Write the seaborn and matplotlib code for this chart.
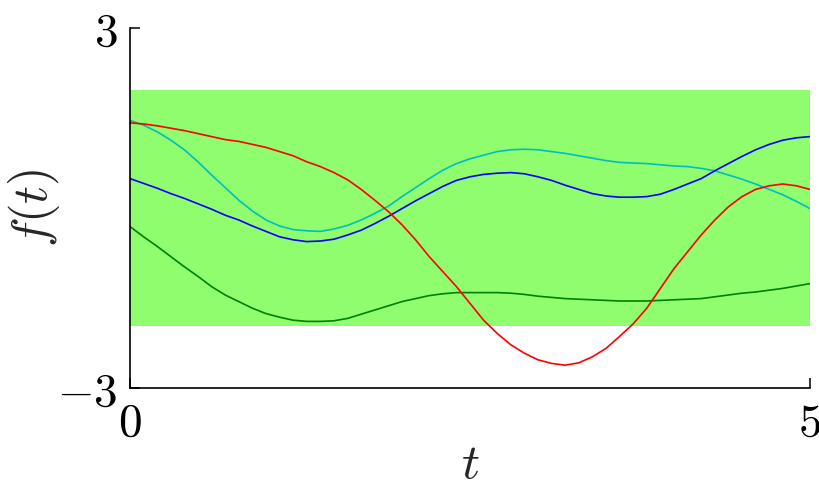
import numpy as np
import pandas as pd
import matplotlib
matplotlib.use("Agg")
import matplotlib.pyplot as plt
import seaborn as sns

# Sample paths f(t) on a grid of t
t = [0.0, 0.1, 0.2, 0.3, 0.4, 0.5, 0.6, 0.7, 0.8, 0.9,
     1.0, 1.1, 1.2, 1.3, 1.4, 1.5, 1.6, 1.7, 1.8, 1.9,
     2.0, 2.1, 2.2, 2.3, 2.4, 2.5, 2.6, 2.7, 2.8, 2.9,
     3.0, 3.1, 3.2, 3.3, 3.4, 3.5, 3.6, 3.7, 3.8, 3.9,
     4.0, 4.1, 4.2, 4.3, 4.4, 4.5, 4.6, 4.7, 4.8, 4.9, 5.0]

f_green = [-0.31, -0.48, -0.64, -0.81, -0.98, -1.14, -1.31, -1.45, -1.56, -1.67,
           -1.76, -1.82, -1.87, -1.89, -1.89, -1.88, -1.84, -1.77, -1.70, -1.63,
           -1.56, -1.51, -1.46, -1.43, -1.41, -1.41, -1.41, -1.41, -1.42, -1.44,
           -1.47, -1.49, -1.51, -1.52, -1.53, -1.54, -1.55, -1.55, -1.55, -1.54,
           -1.53, -1.52, -1.51, -1.48, -1.45, -1.42, -1.40, -1.37, -1.34, -1.30,
           -1.26]
f_cyan = [1.46, 1.38, 1.27, 1.13, 0.97, 0.77, 0.55, 0.34, 0.13, -0.05,
          -0.20, -0.30, -0.36, -0.38, -0.39, -0.35, -0.29, -0.20, -0.09, 0.03,
          0.19, 0.34, 0.49, 0.63, 0.74, 0.82, 0.88, 0.94, 0.97, 0.98,
          0.97, 0.94, 0.91, 0.87, 0.83, 0.79, 0.76, 0.75, 0.74, 0.72,
          0.70, 0.69, 0.66, 0.62, 0.55, 0.48, 0.40, 0.31, 0.22, 0.11,
          -0.01]
f_blue = [0.49, 0.41, 0.33, 0.24, 0.16, 0.07, -0.02, -0.12, -0.20, -0.30,
          -0.39, -0.48, -0.53, -0.56, -0.55, -0.52, -0.45, -0.37, -0.26, -0.14,
          -0.01, 0.12, 0.24, 0.36, 0.46, 0.52, 0.56, 0.58, 0.59, 0.57,
          0.52, 0.46, 0.38, 0.31, 0.24, 0.20, 0.18, 0.18, 0.19, 0.23,
          0.31, 0.40, 0.49, 0.62, 0.74, 0.86, 0.97, 1.06, 1.13, 1.17,
          1.19]
f_red = [1.42, 1.40, 1.37, 1.33, 1.29, 1.24, 1.19, 1.14, 1.11, 1.06,
         1.01, 0.94, 0.87, 0.77, 0.69, 0.59, 0.47, 0.31, 0.13, -0.06,
         -0.28, -0.53, -0.81, -1.06, -1.31, -1.59, -1.87, -2.09, -2.28, -2.42,
         -2.53, -2.59, -2.62, -2.58, -2.48, -2.34, -2.14, -1.93, -1.67, -1.34,
         -1.01, -0.73, -0.45, -0.20, 0.02, 0.19, 0.31, 0.37, 0.40, 0.37,
         0.31]

# 95% band of the prior
band_lo = -1.96
band_hi = 1.96

series = {"green": f_green, "cyan": f_cyan, "blue": f_blue, "red": f_red}
colors = {"green": (0.0, 0.5, 0.0), "cyan": (0.0, 0.75, 0.75),
          "blue": (0.0, 0.0, 1.0), "red": (1.0, 0.0, 0.0)}

df = pd.DataFrame({
    "t": np.tile(t, len(series)),
    "f": np.concatenate([series[k] for k in series]),
    "path": np.repeat(list(series.keys()), len(t)),
})

sns.set_style("ticks")
plt.rcParams["mathtext.fontset"] = "cm"
plt.rcParams["font.family"] = ["DejaVu Sans"]

fig = plt.figure(figsize=(8.19, 4.82), dpi=100)
ax = fig.add_axes([130 / 819, 1 - 388 / 482, 680 / 819, 360 / 482])

ax.fill_between([t[0], t[-1]], [band_lo, band_lo], [band_hi, band_hi],
                color="#8ffd6e", linewidth=0, zorder=0)

sns.lineplot(data=df, x="t", y="f", hue="path", palette=colors,
             estimator=None, sort=False, linewidth=1.2, legend=False, ax=ax)

ax.set_xlim(0, 5)
ax.set_ylim(-3, 3)
ax.set_xticks([0, 5])
ax.set_xticklabels(["$0$", "$5$"])
ax.set_yticks([-3, 3])
ax.set_yticklabels(["$-3$", "$3$"])
ax.tick_params(direction="in", length=7, width=1.1, labelsize=34, pad=9,
               colors="black")

for side in ("top", "right"):
    ax.spines[side].set_visible(False)
for side in ("left", "bottom"):
    ax.spines[side].set_linewidth(1.2)
    ax.spines[side].set_color("black")

ax.set_xlabel("$t$", fontsize=36)
ax.set_ylabel("$f(t)$", fontsize=36)
ax.xaxis.set_label_coords(0.5, -0.145)
ax.yaxis.set_label_coords(-0.1, 0.5)

fig.savefig("out.png", dpi=100)
